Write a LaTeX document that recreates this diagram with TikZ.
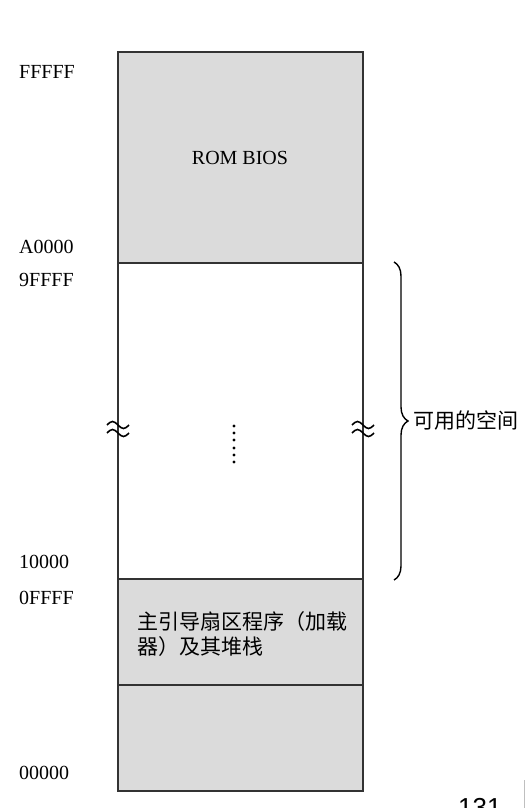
\documentclass[tikz,border=0pt]{standalone}
\usepackage{fontspec}
\setmainfont{Liberation Serif}
\newfontfamily\cjk{Noto Sans CJK SC}
\newfontfamily\pagefont{Liberation Sans}
\usetikzlibrary{positioning}
\usetikzlibrary{calc}
\usetikzlibrary{decorations.pathreplacing}
\tikzset{mem/.style={draw=black!80,line width=1.8pt,fill=black!14}}
\tikzset{addr/.style={anchor=west,inner sep=0pt,font=\fontsize{20}{23}\selectfont}}
\tikzset{cn/.style={inner sep=0pt,font=\cjk\fontsize{21}{25}\selectfont}}
\tikzset{brk/.pic={
  \draw[line width=1.6pt] (-11,-3) sin (-5.5,-6.5) cos (0,-3) sin (5.5,0.5) cos (11,-3);
  \draw[line width=1.6pt] (-11,5) sin (-5.5,1.5) cos (0,5) sin (5.5,8.5) cos (11,5);
}}

\begin{document}
\begin{tikzpicture}[x=1pt,y=-1pt]
\useasboundingbox (0,0) rectangle (531,808);
\fill[white] (0,0) rectangle (531,808);

\draw[mem] (118,52) rectangle (363,263);
\draw[mem,fill=white] (118,263) rectangle (363,579);
\draw[mem] (118,579) rectangle (363,685);
\draw[mem] (118,685) rectangle (363,791);

\node (rom) at (240,158) {\fontsize{20}{23}\selectfont ROM BIOS};
\node[cn,anchor=west,align=left] (boot) at (137,634) {主引导扇区程序（加载\\器）及其堆栈};

\node[addr] (hi) at (19,72) {FFFFF};
\node[addr] (romlo) at (19,247) {A0000};
\node[addr] (freehi) at (19,280) {9FFFF};
\node[addr] (freelo) at (19,562) {10000};
\node[addr] (boothi) at (19,598) {0FFFF};
\node[addr] (lo) at (19,773) {00000};

\pic at (118,428) {brk};
\pic at (363,428) {brk};
\foreach \y in {426,433,440,448,455,462}
  \fill (234,\y) circle (1.6);

\coordinate (brtop) at (394,262);
\coordinate (brbot) at (394,580);
\coordinate (tip) at (408,421);
\draw[decorate,decoration={brace,amplitude=14pt},line width=1.4pt] (brtop) -- (brbot);
\node[cn,right=5pt of tip] (free) {可用的空间};

\node[anchor=base west,inner sep=0pt,font=\pagefont\fontsize{26}{26}\selectfont] (page) at (458,816) {131};
\draw[black!25,line width=1pt] (524,780) -- (524,808);
\end{tikzpicture}
\end{document}
